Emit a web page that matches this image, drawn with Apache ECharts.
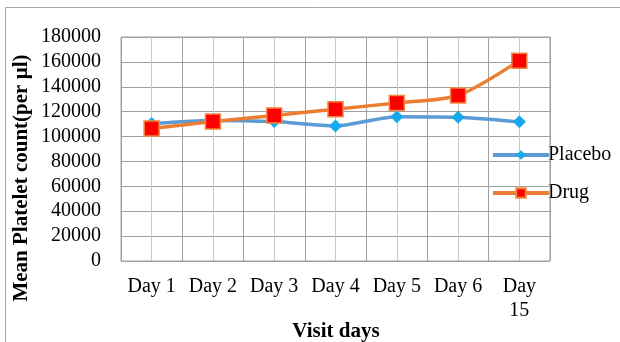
<!DOCTYPE html>
<html>
<head>
<meta charset="utf-8">
<script src="https://cdn.jsdelivr.net/npm/echarts@6/dist/echarts.min.js"></script>
<style>
  html, body { margin: 0; padding: 0; background: #fff; }
  #chart { width: 620px; height: 342px; }
</style>
</head>
<body>
<div id="chart"></div>
<script>
// Mean platelet count per visit, placebo vs drug
const categories = ['Day 1', 'Day 2', 'Day 3', 'Day 4', 'Day 5', 'Day 6', 'Day\n15'];
const placebo = [110500, 113000, 112000, 108500, 116000, 115500, 111800];
const drug = [106500, 112000, 117000, 122000, 127000, 133000, 161000];
const yTicks = [0, 20000, 40000, 60000, 80000, 100000, 120000, 140000, 160000, 180000];

// The x axis runs in half-category steps so that gridlines fall both on the
// category boundaries (even slots) and through the category centres (odd slots).
const slots = [];
for (let i = 0; i <= categories.length * 2; i++) slots.push('s' + i);
const onSlots = values => slots.map((_, i) => (i % 2 === 1 ? values[(i - 1) / 2] : null));

const serif = '"Liberation Serif", "Times New Roman", serif';
const chart = echarts.init(document.getElementById('chart'));

chart.setOption({
  animation: false,
  backgroundColor: '#fff',
  grid: {
    left: 121, right: 70, top: 37, bottom: 81,
    show: true, backgroundColor: 'transparent', borderColor: '#a0a0a0', borderWidth: 1, z: 5
  },
  legend: {
    orient: 'vertical',
    left: 486, top: 140,
    itemWidth: 56, itemHeight: 12,
    itemGap: 18,
    textStyle: { fontFamily: serif, fontSize: 20, color: '#000', padding: [0, 0, 0, -6] },
    data: [
      { name: 'Placebo', itemStyle: { color: '#16a9ee' } },
      { name: 'Drug' }
    ],
    lineStyle: { width: 4 }
  },
  xAxis: {
    type: 'category',
    data: slots,
    boundaryGap: false,
    axisLine: { show: false },
    axisTick: { show: false },
    axisLabel: {
      fontFamily: serif, fontSize: 20, color: '#000', margin: 14, lineHeight: 24,
      interval: 0,
      formatter: (value, index) => (index % 2 === 1 ? categories[(index - 1) / 2] : '')
    },
    splitLine: {
      show: true,
      interval: 0,
      lineStyle: { color: ['#a0a0a0', '#c8c8c8'], width: 1 }
    }
  },
  yAxis: {
    type: 'value',
    min: 0, max: 180000, interval: 20000,
    axisLine: { show: false },
    axisTick: { show: false },
    axisLabel: {
      fontFamily: serif, fontSize: 20, color: '#000', margin: 20,
      formatter: v => yTicks.includes(v) ? String(v) : ''
    },
    splitLine: { show: true, lineStyle: { color: '#a0a0a0', width: 1 } }
  },
  graphic: [
    {
      type: 'rect',
      shape: { x: 5.5, y: 7.5, width: 700, height: 400 },
      style: { fill: 'none', stroke: '#a6a6a6', lineWidth: 1 },
      silent: true
    },
    {
      type: 'text',
      x: 22, y: 178,
      rotation: Math.PI / 2,
      style: {
        text: 'Mean Platelet count(per µl)',
        fontFamily: serif, fontSize: 21, fontWeight: 'bold', fill: '#000',
        align: 'center', verticalAlign: 'middle'
      }
    },
    {
      type: 'text',
      x: 336, y: 332,
      style: {
        text: 'Visit days',
        fontFamily: serif, fontSize: 21, fontWeight: 'bold', fill: '#000',
        align: 'center', verticalAlign: 'middle'
      }
    }
  ],
  series: [
    {
      name: 'Placebo',
      type: 'line',
      data: onSlots(placebo),
      connectNulls: true,
      showAllSymbol: true,
      smooth: 0.25,
      symbol: 'diamond',
      symbolSize: 13,
      lineStyle: { color: '#5b9bd5', width: 3.5 },
      itemStyle: { color: '#16a9ee', borderColor: '#16a9ee', borderWidth: 0 },
      z: 6
    },
    {
      name: 'Drug',
      type: 'line',
      data: onSlots(drug),
      connectNulls: true,
      showAllSymbol: true,
      smooth: 0.25,
      symbol: 'rect',
      symbolSize: 15,
      lineStyle: { color: '#ed7d31', width: 3.5 },
      itemStyle: { color: '#ff0000', borderColor: '#f0883e', borderWidth: 1.5 },
      z: 7
    }
  ]
});
</script>
</body>
</html>
